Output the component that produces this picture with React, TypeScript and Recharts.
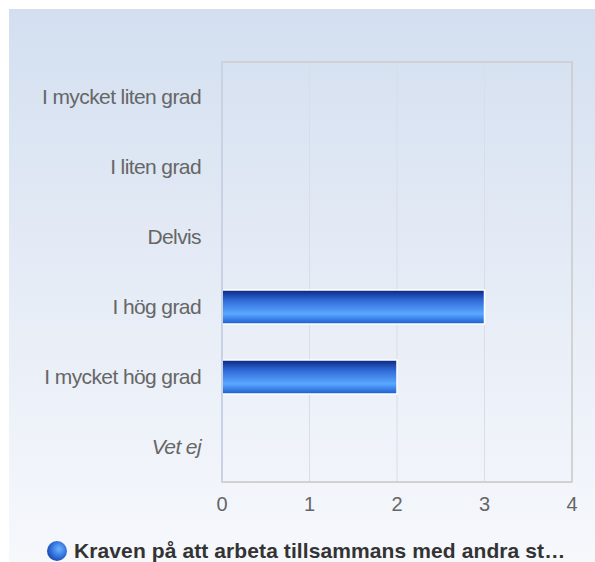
import { BarChart, Bar, XAxis, YAxis, CartesianGrid, ReferenceArea } from "recharts";

const categories = [
  "I mycket liten grad",
  "I liten grad",
  "Delvis",
  "I hög grad",
  "I mycket hög grad",
  "Vet ej",
];
const counts = [0, 0, 0, 3, 2, 0];
const xTicks = [0, 1, 2, 3, 4];
const seriesName = "Kraven på att arbeta tillsammans med andra st…";

const data = categories.map((name, i) => ({ name, value: counts[i] }));

const FONT = "'Liberation Sans', Arial, sans-serif";

function CategoryTick({ x, y, payload }: any) {
  const italic = payload.value === "Vet ej";
  return (
    <text
      x={x}
      y={y}
      dy={7}
      textAnchor="end"
      fill="#666"
      fontSize={21}
      fontFamily={FONT}
      fontStyle={italic ? "italic" : "normal"}
      letterSpacing={-0.6}
    >
      {payload.value}
    </text>
  );
}

export default function App() {
  return (
    <div style={{ position: "relative", width: 595, height: 562, overflow: "hidden", background: "#fff" }}>
      <style>{`body{margin:0}`}</style>
      <div
        style={{
          position: "absolute",
          left: 9,
          top: 9,
          width: 586,
          height: 553,
          background: "linear-gradient(to bottom, #d3dff0 0%, #e6ecf6 50%, #f6f8fc 100%)",
        }}
      />
      <div style={{ position: "absolute", left: 0, top: 0 }}>
        <BarChart
          width={595}
          height={562}
          data={data}
          layout="vertical"
          margin={{ top: 62, right: 23, bottom: 50, left: 0 }}
          barCategoryGap={18}
        >
          <defs>
            <linearGradient id="barGrad" x1="0" y1="0" x2="0" y2="1">
              <stop offset="0%" stopColor="#0a2680" />
              <stop offset="30%" stopColor="#2f6ad8" />
              <stop offset="70%" stopColor="#5aa8ff" />
              <stop offset="100%" stopColor="#1c5cd0" />
            </linearGradient>
          </defs>
          <CartesianGrid stroke="#d8dde6" horizontal={false} vertical={true} />
          <ReferenceArea x1={0} x2={4} fill="none" stroke="#cccccc" strokeWidth={1.5} ifOverflow="visible" />
          <XAxis
            type="number"
            domain={[0, 4]}
            ticks={xTicks}
            axisLine={{ stroke: "#cccccc" }}
            tickLine={false}
            tick={{ fill: "#666", fontSize: 20, fontFamily: FONT }}
            tickMargin={9}
            height={30}
          />
          <YAxis
            type="category"
            dataKey="name"
            width={222}
            axisLine={{ stroke: "#c8d2e4", strokeWidth: 2 }}
            tickLine={false}
            tick={<CategoryTick />}
            tickMargin={15}
          />
          <Bar
            dataKey="value"
            fill="url(#barGrad)"
            stroke="#ffffff"
            strokeWidth={1.5}
            barSize={34}
            isAnimationActive={false}
          />
        </BarChart>
      </div>
      <div
        style={{
          position: "absolute",
          left: 47,
          top: 539,
          display: "flex",
          alignItems: "center",
          gap: 7,
          fontFamily: FONT,
          fontSize: 21,
          fontWeight: "bold",
          color: "#333",
          whiteSpace: "nowrap",
          letterSpacing: 0.1,
        }}
      >
        <div
          style={{
            width: 20,
            height: 20,
            borderRadius: "50%",
            background: "radial-gradient(circle at 60% 40%, #6ab4ff 0%, #2f6ad8 50%, #0a2680 100%)",
          }}
        />
        <span>{seriesName}</span>
      </div>
    </div>
  );
}
